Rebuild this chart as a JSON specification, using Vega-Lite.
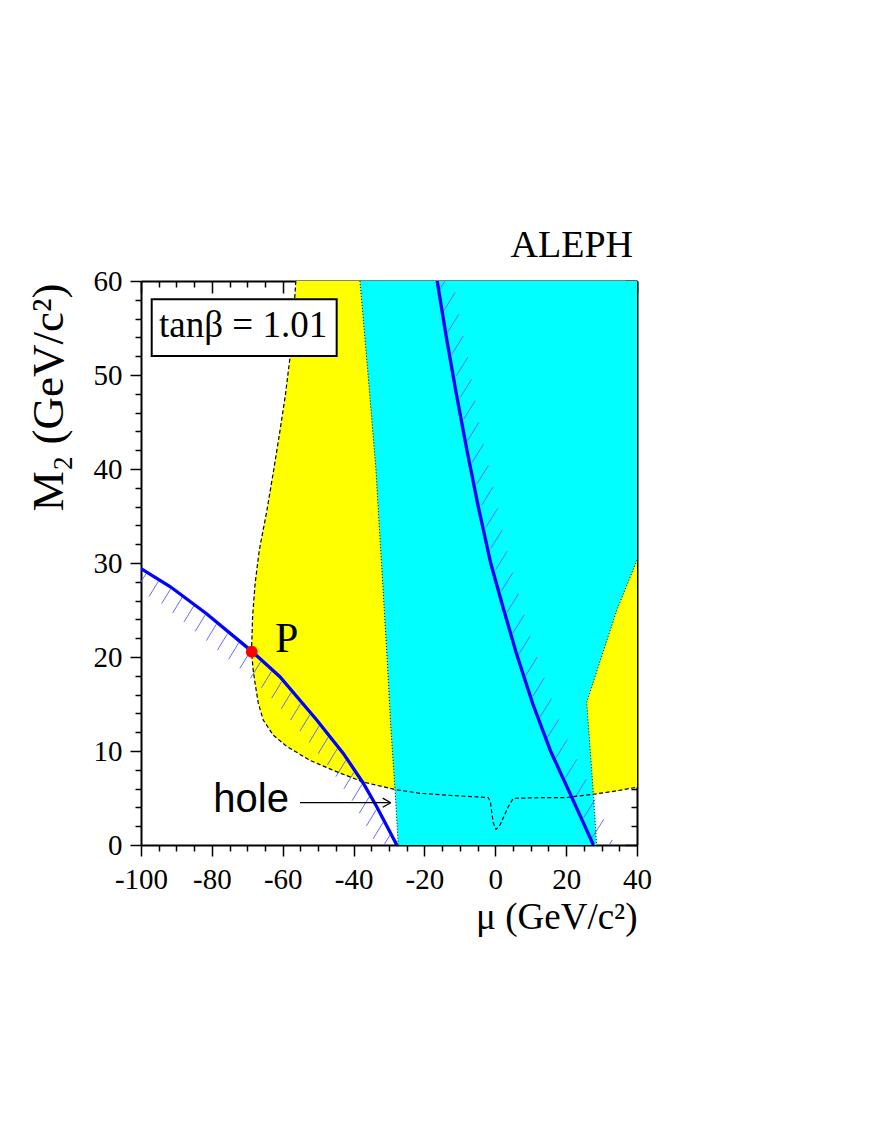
{
  "$schema": "https://vega.github.io/schema/vega-lite/v6.json",
  "width": 496,
  "height": 564,
  "autosize": {"type": "none"},
  "padding": {"left": 141, "top": 281, "right": 235, "bottom": 283},
  "background": "white",
  "config": {"view": {"stroke": null}, "axis": {"grid": false}},
  "resolve": {"axis": {"x": "independent", "y": "independent"}},
  "datasets": {
    "yellow": [
      {"i": 0, "x": -56.3, "y": 60}, {"i": 1, "x": -57.0, "y": 56}, {"i": 2, "x": -57.9, "y": 52},
      {"i": 3, "x": -59.2, "y": 48}, {"i": 4, "x": -60.8, "y": 44}, {"i": 5, "x": -62.5, "y": 40},
      {"i": 6, "x": -64.5, "y": 35.5}, {"i": 7, "x": -66.6, "y": 31.4}, {"i": 8, "x": -67.8, "y": 27.8},
      {"i": 9, "x": -68.5, "y": 24.3}, {"i": 10, "x": -68.8, "y": 20.7}, {"i": 11, "x": -68.4, "y": 18.8},
      {"i": 12, "x": -67.8, "y": 17.2}, {"i": 13, "x": -66.9, "y": 15.1}, {"i": 14, "x": -65.5, "y": 13.3},
      {"i": 15, "x": -62.7, "y": 11.7}, {"i": 16, "x": -58.9, "y": 10.5}, {"i": 17, "x": -52.3, "y": 9.0},
      {"i": 18, "x": -44.8, "y": 7.8}, {"i": 19, "x": -37.3, "y": 6.7}, {"i": 20, "x": -28.3, "y": 5.9},
      {"i": 21, "x": -21.3, "y": 5.5}, {"i": 22, "x": -13.7, "y": 5.3}, {"i": 23, "x": -2.0, "y": 5.05},
      {"i": 24, "x": -1.4, "y": 4.6}, {"i": 25, "x": -0.6, "y": 2.4}, {"i": 26, "x": 0.2, "y": 1.65},
      {"i": 27, "x": 1.3, "y": 2.1}, {"i": 28, "x": 3.7, "y": 4.1}, {"i": 29, "x": 5.1, "y": 4.97},
      {"i": 30, "x": 12.6, "y": 5.03}, {"i": 31, "x": 20.1, "y": 5.05}, {"i": 32, "x": 27.7, "y": 5.4},
      {"i": 33, "x": 33.3, "y": 5.7}, {"i": 34, "x": 40, "y": 6.15}, {"i": 35, "x": 40, "y": 60}
    ],
    "cyan": [
      {"i": 0, "x": -38.2, "y": 60}, {"i": 1, "x": 40, "y": 60}, {"i": 2, "x": 40, "y": 30.3},
      {"i": 3, "x": 34.3, "y": 25}, {"i": 4, "x": 25.8, "y": 15.2}, {"i": 5, "x": 27.7, "y": 5.4},
      {"i": 6, "x": 28.6, "y": 0}, {"i": 7, "x": -27.4, "y": 0}, {"i": 8, "x": -28.3, "y": 5.9},
      {"i": 9, "x": -29.5, "y": 12.6}, {"i": 10, "x": -30.5, "y": 19.7}, {"i": 11, "x": -32.2, "y": 30.5},
      {"i": 12, "x": -33.7, "y": 40}, {"i": 13, "x": -35.9, "y": 50}
    ],
    "dotted": [
      {"s": "L", "i": 0, "x": -38.2, "y": 60}, {"s": "L", "i": 1, "x": -35.9, "y": 50},
      {"s": "L", "i": 2, "x": -33.7, "y": 40}, {"s": "L", "i": 3, "x": -32.2, "y": 30.5},
      {"s": "L", "i": 4, "x": -30.5, "y": 19.7}, {"s": "L", "i": 5, "x": -29.5, "y": 12.6},
      {"s": "L", "i": 6, "x": -28.3, "y": 5.9}, {"s": "L", "i": 7, "x": -27.4, "y": 0},
      {"s": "R", "i": 0, "x": 40, "y": 30.3}, {"s": "R", "i": 1, "x": 34.3, "y": 25},
      {"s": "R", "i": 2, "x": 25.8, "y": 15.2}, {"s": "R", "i": 3, "x": 27.7, "y": 5.4},
      {"s": "R", "i": 4, "x": 28.6, "y": 0}
    ],
    "blue": [
      {"s": "L", "i": 0, "x": -100, "y": 29.4}, {"s": "L", "i": 1, "x": -91.8, "y": 27.5},
      {"s": "L", "i": 2, "x": -81.5, "y": 24.6}, {"s": "L", "i": 3, "x": -68.7, "y": 20.6},
      {"s": "L", "i": 4, "x": -60.8, "y": 17.9}, {"s": "L", "i": 5, "x": -50.4, "y": 13.3},
      {"s": "L", "i": 6, "x": -42.9, "y": 9.75}, {"s": "L", "i": 7, "x": -37.3, "y": 6.6},
      {"s": "L", "i": 8, "x": -33.5, "y": 4.1}, {"s": "L", "i": 9, "x": -27.8, "y": 0},
      {"s": "R", "i": 0, "x": -16.4, "y": 60}, {"s": "R", "i": 1, "x": -13.8, "y": 54},
      {"s": "R", "i": 2, "x": -11.0, "y": 48}, {"s": "R", "i": 3, "x": -8.0, "y": 42},
      {"s": "R", "i": 4, "x": -4.8, "y": 36}, {"s": "R", "i": 5, "x": -1.3, "y": 30},
      {"s": "R", "i": 6, "x": 2.4, "y": 25}, {"s": "R", "i": 7, "x": 6.1, "y": 20.2},
      {"s": "R", "i": 8, "x": 10.6, "y": 15}, {"s": "R", "i": 9, "x": 15.6, "y": 10},
      {"s": "R", "i": 10, "x": 21.3, "y": 5.3}, {"s": "R", "i": 11, "x": 27.7, "y": 0}
    ],
    "hatch": [
      {"x": -98.53, "y": 28.89, "x2": -101.35, "y2": 27.15},
      {"x": -94.89, "y": 28.18, "x2": -97.71, "y2": 26.44},
      {"x": -91.36, "y": 27.42, "x2": -94.18, "y2": 25.68},
      {"x": -88.23, "y": 26.43, "x2": -91.05, "y2": 24.69},
      {"x": -85.07, "y": 25.45, "x2": -87.89, "y2": 23.71},
      {"x": -81.91, "y": 24.46, "x2": -84.73, "y2": 22.72},
      {"x": -78.74, "y": 23.48, "x2": -81.56, "y2": 21.74},
      {"x": -75.58, "y": 22.49, "x2": -78.40, "y2": 20.75},
      {"x": -72.42, "y": 21.51, "x2": -75.24, "y2": 19.77},
      {"x": -69.29, "y": 20.52, "x2": -72.11, "y2": 18.78},
      {"x": -66.24, "y": 19.49, "x2": -69.06, "y2": 17.75},
      {"x": -63.19, "y": 18.46, "x2": -66.01, "y2": 16.72},
      {"x": -60.29, "y": 17.37, "x2": -63.11, "y2": 15.63},
      {"x": -57.63, "y": 16.20, "x2": -60.45, "y2": 14.46},
      {"x": -54.98, "y": 15.02, "x2": -57.80, "y2": 13.28},
      {"x": -52.33, "y": 13.85, "x2": -55.15, "y2": 12.11},
      {"x": -49.70, "y": 12.66, "x2": -52.52, "y2": 10.92},
      {"x": -47.16, "y": 11.46, "x2": -49.98, "y2": 9.72},
      {"x": -44.59, "y": 10.24, "x2": -47.41, "y2": 8.50},
      {"x": -42.17, "y": 9.01, "x2": -44.99, "y2": 7.27},
      {"x": -39.91, "y": 7.72, "x2": -42.73, "y2": 5.98},
      {"x": -37.62, "y": 6.45, "x2": -40.44, "y2": 4.71},
      {"x": -35.59, "y": 5.11, "x2": -38.41, "y2": 3.37},
      {"x": -33.56, "y": 3.77, "x2": -36.38, "y2": 2.03},
      {"x": -31.67, "y": 2.40, "x2": -34.49, "y2": 0.66},
      {"x": -29.77, "y": 1.03, "x2": -32.59, "y2": -0.71},
      {"x": -15.64, "y": 59.12, "x2": -12.39, "y2": 61.08},
      {"x": -14.57, "y": 56.82, "x2": -11.32, "y2": 58.78},
      {"x": -13.52, "y": 54.51, "x2": -10.27, "y2": 56.47},
      {"x": -12.25, "y": 52.21, "x2": -9.00, "y2": 54.17},
      {"x": -10.98, "y": 49.93, "x2": -7.73, "y2": 51.89},
      {"x": -9.88, "y": 47.62, "x2": -6.63, "y2": 49.58},
      {"x": -8.89, "y": 45.31, "x2": -5.64, "y2": 47.27},
      {"x": -7.88, "y": 43.00, "x2": -4.63, "y2": 44.96},
      {"x": -6.52, "y": 40.71, "x2": -3.27, "y2": 42.67},
      {"x": -5.17, "y": 38.43, "x2": -1.92, "y2": 40.39},
      {"x": -3.84, "y": 36.15, "x2": -0.59, "y2": 38.11},
      {"x": -2.57, "y": 33.85, "x2": 0.68, "y2": 35.81},
      {"x": -1.27, "y": 31.56, "x2": 1.98, "y2": 33.52},
      {"x": 0.11, "y": 29.29, "x2": 3.36, "y2": 31.25},
      {"x": 1.72, "y": 27.02, "x2": 4.97, "y2": 28.98},
      {"x": 3.33, "y": 24.77, "x2": 6.58, "y2": 26.73},
      {"x": 4.91, "y": 22.51, "x2": 8.16, "y2": 24.47},
      {"x": 6.57, "y": 20.26, "x2": 9.82, "y2": 22.22},
      {"x": 8.61, "y": 18.04, "x2": 11.86, "y2": 20.00},
      {"x": 10.61, "y": 15.83, "x2": 13.86, "y2": 17.79},
      {"x": 12.64, "y": 13.62, "x2": 15.89, "y2": 15.58},
      {"x": 14.65, "y": 11.40, "x2": 17.90, "y2": 13.36},
      {"x": 17.05, "y": 9.24, "x2": 20.30, "y2": 11.20},
      {"x": 19.81, "y": 7.16, "x2": 23.06, "y2": 9.12},
      {"x": 22.49, "y": 5.04, "x2": 25.74, "y2": 7.00},
      {"x": 24.92, "y": 2.89, "x2": 28.17, "y2": 4.85},
      {"x": 27.35, "y": 0.77, "x2": 30.60, "y2": 2.73},
      {"x": 29.77, "y": -1.43, "x2": 33.02, "y2": 0.53}
    ],
    "arrow": [
      {"x": -55.12, "y": 4.5, "x2": -29.52, "y2": 4.5},
      {"x": -31.78, "y": 4.98, "x2": -29.52, "y2": 4.5},
      {"x": -31.78, "y": 4.02, "x2": -29.52, "y2": 4.5}
    ]
  },
  "layer": [
    {
      "data": {"name": "yellow"},
      "mark": {"type": "line", "fill": "#ffff00", "strokeWidth": 0, "strokeOpacity": 0, "interpolate": "linear-closed", "clip": true},
      "encoding": {
        "x": {"field": "x", "type": "quantitative", "scale": {"domain": [-100, 40], "nice": false, "zero": false},
          "axis": {"orient": "bottom", "values": [-100, -80, -60, -40, -20, 0, 20, 40], "tickSize": 11, "tickWidth": 1.5, "tickColor": "black",
            "domain": true, "domainColor": "black", "domainWidth": 2, "labelFont": "Liberation Serif", "labelFontSize": 29, "labelColor": "black",
            "labelPadding": 32, "labelBaseline": "alphabetic", "labelExpr": "toString(datum.value)", "labelOverlap": false, "labelFlush": false,
            "title": "μ (GeV/c²)", "titleFont": "Liberation Serif", "titleFontSize": 37, "titleFontWeight": "normal", "titleColor": "black",
            "titleX": 496, "titleY": 83, "titleAlign": "right", "titleBaseline": "alphabetic", "titleAngle": 0}},
        "y": {"field": "y", "type": "quantitative", "scale": {"domain": [0, 60], "nice": false, "zero": false},
          "axis": {"orient": "left", "values": [0, 10, 20, 30, 40, 50, 60], "tickSize": 11, "tickWidth": 1.5, "tickColor": "black",
            "domain": true, "domainColor": "black", "domainWidth": 2, "labelFont": "Liberation Serif", "labelFontSize": 29, "labelColor": "black",
            "labelPadding": 8, "labelOverlap": false, "labelFlush": false,
            "title": "M₂ (GeV/c²)", "titleFont": "Liberation Serif", "titleFontSize": 45, "titleFontWeight": "normal", "titleColor": "black",
            "titleX": -79, "titleY": 2, "titleAlign": "right", "titleBaseline": "alphabetic", "titleAngle": 270}},
        "order": {"field": "i", "type": "quantitative"}
      }
    },
    {
      "data": {"name": "cyan"},
      "mark": {"type": "line", "fill": "#00ffff", "strokeWidth": 0, "strokeOpacity": 0, "interpolate": "linear-closed", "clip": true},
      "encoding": {
        "x": {"field": "x", "type": "quantitative", "scale": {"domain": [-100, 40], "nice": false, "zero": false},
          "axis": {"orient": "bottom", "values": [-95, -90, -85, -75, -70, -65, -55, -50, -45, -35, -30, -25, -15, -10, -5, 5, 10, 15, 25, 30, 35],
            "tickSize": 6, "tickWidth": 1.5, "tickColor": "black", "domain": false, "labels": false, "title": null}},
        "y": {"field": "y", "type": "quantitative", "scale": {"domain": [0, 60], "nice": false, "zero": false},
          "axis": {"orient": "left", "values": [2, 4, 6, 8, 12, 14, 16, 18, 22, 24, 26, 28, 32, 34, 36, 38, 42, 44, 46, 48, 52, 54, 56, 58],
            "tickSize": 6, "tickWidth": 1.5, "tickColor": "black", "domain": false, "labels": false, "title": null}},
        "order": {"field": "i", "type": "quantitative"}
      }
    },
    {
      "data": {"name": "hatch"},
      "mark": {"type": "rule", "color": "#6a6aff", "strokeWidth": 1, "clip": true},
      "encoding": {
        "x": {"field": "x", "type": "quantitative", "scale": {"domain": [-100, 40], "nice": false, "zero": false},
          "axis": {"orient": "top", "values": [-100, -80, -60, -40, -20, 0, 20, 40], "tickSize": -12, "tickWidth": 1.5, "tickColor": "black",
            "domain": true, "domainColor": "black", "domainWidth": 2, "labels": false, "title": null}},
        "y": {"field": "y", "type": "quantitative", "scale": {"domain": [0, 60], "nice": false, "zero": false},
          "axis": {"orient": "right", "values": [0, 10, 20, 30, 40, 50, 60], "tickSize": -12, "tickWidth": 1.5, "tickColor": "black",
            "domain": true, "domainColor": "black", "domainWidth": 2, "labels": false, "title": null}},
        "x2": {"field": "x2"},
        "y2": {"field": "y2"}
      }
    },
    {
      "data": {"name": "yellow"},
      "transform": [{"filter": "datum.i < 35"}],
      "mark": {"type": "line", "color": "black", "strokeWidth": 1.2, "strokeDash": [4, 2.5], "clip": true},
      "encoding": {
        "x": {"field": "x", "type": "quantitative", "scale": {"domain": [-100, 40], "nice": false, "zero": false},
          "axis": {"orient": "top", "values": [-95, -90, -85, -75, -70, -65, -55, -50, -45, -35, -30, -25, -15, -10, -5, 5, 10, 15, 25, 30, 35],
            "tickSize": -6, "tickWidth": 1.5, "tickColor": "black", "domain": false, "labels": false, "title": null}},
        "y": {"field": "y", "type": "quantitative", "scale": {"domain": [0, 60], "nice": false, "zero": false},
          "axis": {"orient": "right", "values": [2, 4, 6, 8, 12, 14, 16, 18, 22, 24, 26, 28, 32, 34, 36, 38, 42, 44, 46, 48, 52, 54, 56, 58],
            "tickSize": -6, "tickWidth": 1.5, "tickColor": "black", "domain": false, "labels": false, "title": null}},
        "order": {"field": "i", "type": "quantitative"}
      }
    },
    {
      "data": {"name": "dotted"},
      "mark": {"type": "line", "color": "black", "strokeWidth": 1, "strokeDash": [1, 2], "clip": true},
      "encoding": {
        "x": {"field": "x", "type": "quantitative", "scale": {"domain": [-100, 40], "nice": false, "zero": false}, "axis": null},
        "y": {"field": "y", "type": "quantitative", "scale": {"domain": [0, 60], "nice": false, "zero": false}, "axis": null},
        "detail": {"field": "s"},
        "order": {"field": "i", "type": "quantitative"}
      }
    },
    {
      "data": {"name": "blue"},
      "mark": {"type": "line", "color": "#0000ff", "strokeWidth": 3.3, "clip": true},
      "encoding": {
        "x": {"field": "x", "type": "quantitative", "scale": {"domain": [-100, 40], "nice": false, "zero": false}, "axis": null},
        "y": {"field": "y", "type": "quantitative", "scale": {"domain": [0, 60], "nice": false, "zero": false}, "axis": null},
        "detail": {"field": "s"},
        "order": {"field": "i", "type": "quantitative"}
      }
    },
    {
      "data": {"values": [{"x": -96.98, "x2": -44.77, "y": 58.05, "y2": 52.02}]},
      "mark": {"type": "rect", "fill": "white", "stroke": "black", "strokeWidth": 2},
      "encoding": {
        "x": {"field": "x", "type": "quantitative", "scale": {"domain": [-100, 40], "nice": false, "zero": false}, "axis": null},
        "y": {"field": "y", "type": "quantitative", "scale": {"domain": [0, 60], "nice": false, "zero": false}, "axis": null},
        "x2": {"field": "x2"},
        "y2": {"field": "y2"}
      }
    },
    {
      "data": {"values": [{"x": -94.92, "y": 54.07, "t": "tanβ = 1.01"}]},
      "mark": {"type": "text", "font": "Liberation Serif", "fontSize": 37, "align": "left", "baseline": "alphabetic", "color": "black"},
      "encoding": {
        "x": {"field": "x", "type": "quantitative", "scale": {"domain": [-100, 40], "nice": false, "zero": false}, "axis": null},
        "y": {"field": "y", "type": "quantitative", "scale": {"domain": [0, 60], "nice": false, "zero": false}, "axis": null},
        "text": {"field": "t"}
      }
    },
    {
      "data": {"values": [{"x": 38.87, "y": 62.55, "t": "ALEPH"}]},
      "mark": {"type": "text", "font": "Liberation Serif", "fontSize": 38, "align": "right", "baseline": "alphabetic", "color": "black"},
      "encoding": {
        "x": {"field": "x", "type": "quantitative", "scale": {"domain": [-100, 40], "nice": false, "zero": false}, "axis": null},
        "y": {"field": "y", "type": "quantitative", "scale": {"domain": [0, 60], "nice": false, "zero": false}, "axis": null},
        "text": {"field": "t"}
      }
    },
    {
      "data": {"values": [{"x": -62.18, "y": 20.56, "t": "P"}]},
      "mark": {"type": "text", "font": "Liberation Serif", "fontSize": 42, "align": "left", "baseline": "alphabetic", "color": "black"},
      "encoding": {
        "x": {"field": "x", "type": "quantitative", "scale": {"domain": [-100, 40], "nice": false, "zero": false}, "axis": null},
        "y": {"field": "y", "type": "quantitative", "scale": {"domain": [0, 60], "nice": false, "zero": false}, "axis": null},
        "text": {"field": "t"}
      }
    },
    {
      "data": {"values": [{"x": -79.59, "y": 3.54, "t": "hole"}]},
      "mark": {"type": "text", "font": "Liberation Sans", "fontSize": 40, "align": "left", "baseline": "alphabetic", "color": "black"},
      "encoding": {
        "x": {"field": "x", "type": "quantitative", "scale": {"domain": [-100, 40], "nice": false, "zero": false}, "axis": null},
        "y": {"field": "y", "type": "quantitative", "scale": {"domain": [0, 60], "nice": false, "zero": false}, "axis": null},
        "text": {"field": "t"}
      }
    },
    {
      "data": {"name": "arrow"},
      "mark": {"type": "rule", "color": "black", "strokeWidth": 1.3},
      "encoding": {
        "x": {"field": "x", "type": "quantitative", "scale": {"domain": [-100, 40], "nice": false, "zero": false}, "axis": null},
        "y": {"field": "y", "type": "quantitative", "scale": {"domain": [0, 60], "nice": false, "zero": false}, "axis": null},
        "x2": {"field": "x2"},
        "y2": {"field": "y2"}
      }
    },
    {
      "data": {"values": [{"x": -68.75, "y": 20.56}]},
      "mark": {"type": "circle", "color": "#ff0000", "size": 140, "opacity": 1},
      "encoding": {
        "x": {"field": "x", "type": "quantitative", "scale": {"domain": [-100, 40], "nice": false, "zero": false}, "axis": null},
        "y": {"field": "y", "type": "quantitative", "scale": {"domain": [0, 60], "nice": false, "zero": false}, "axis": null}
      }
    }
  ]
}
